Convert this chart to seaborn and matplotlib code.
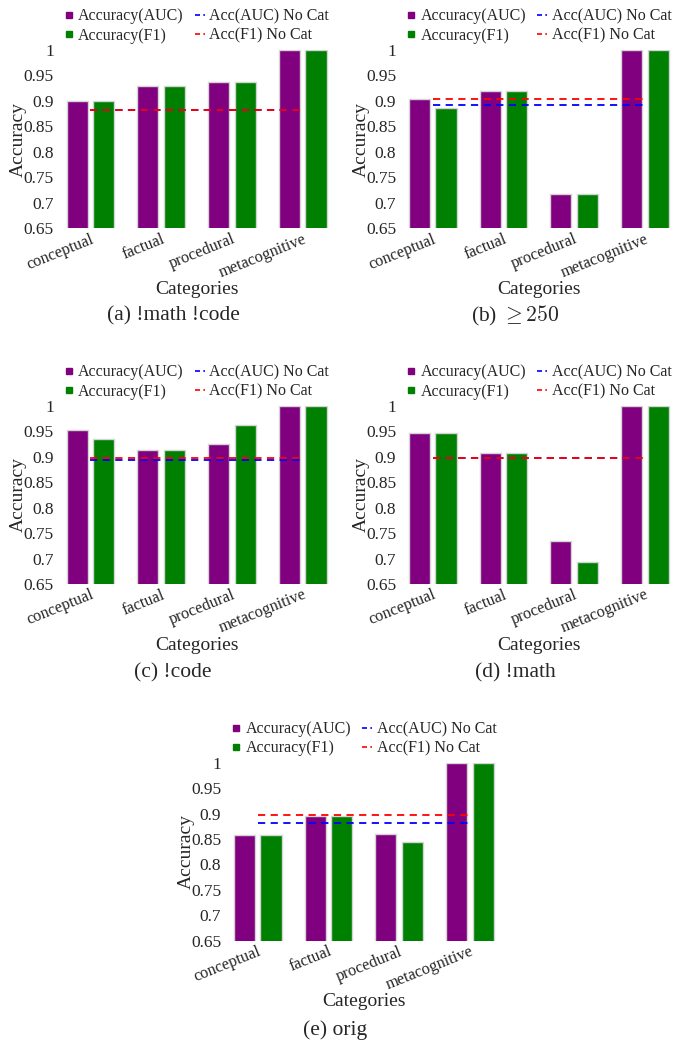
import numpy as np
import pandas as pd
import matplotlib
matplotlib.use("Agg")
import matplotlib.pyplot as plt
from matplotlib.lines import Line2D
import seaborn as sns

sns.set_style("white")
plt.rcParams['font.family'] = ['Liberation Serif', 'DejaVu Serif']
plt.rcParams['mathtext.fontset'] = 'cm'

categories = ["conceptual", "factual", "procedural", "metacognitive"]
metrics = ["Accuracy(AUC)", "Accuracy(F1)"]

auc_a = [0.899, 0.930, 0.938, 1.0]
f1_a = [0.899, 0.930, 0.938, 1.0]
nocat_auc_a, nocat_f1_a = 0.882, 0.882

auc_b = [0.903, 0.919, 0.717, 1.0]
f1_b = [0.887, 0.919, 0.717, 1.0]
nocat_auc_b, nocat_f1_b = 0.893, 0.903

auc_c = [0.952, 0.913, 0.926, 1.0]
f1_c = [0.936, 0.913, 0.963, 1.0]
nocat_auc_c, nocat_f1_c = 0.893, 0.898

auc_d = [0.947, 0.908, 0.734, 1.0]
f1_d = [0.947, 0.908, 0.694, 1.0]
nocat_auc_d, nocat_f1_d = 0.898, 0.898

auc_e = [0.858, 0.896, 0.860, 1.0]
f1_e = [0.858, 0.896, 0.845, 1.0]
nocat_auc_e, nocat_f1_e = 0.881, 0.897

captions = ["(a) !math !code", r"(b) $\geq 250$", "(c) !code", "(d) !math", "(e) orig"]
yticks = [0.65, 0.7, 0.75, 0.8, 0.85, 0.9, 0.95, 1.0]

panels = [
    (auc_a, f1_a, nocat_auc_a, nocat_f1_a),
    (auc_b, f1_b, nocat_auc_b, nocat_f1_b),
    (auc_c, f1_c, nocat_auc_c, nocat_f1_c),
    (auc_d, f1_d, nocat_auc_d, nocat_f1_d),
    (auc_e, f1_e, nocat_auc_e, nocat_f1_e),
]

W, H = 683, 1043
fig = plt.figure(figsize=(W / 100, H / 100), dpi=100)

# axes rectangles in pixels: left, top(y of 1.0), width, bottom(y of 0.65)
rects_px = [
    (62.2, 50.0, 268.7, 228.3),
    (404.4, 50.0, 268.7, 228.3),
    (62.2, 406.0, 268.7, 584.0),
    (404.4, 406.0, 268.7, 584.0),
    (229.4, 762.7, 268.7, 940.7),
]
caption_pos = [(173, 316), (515, 316), (173, 673), (515, 673), (335, 1030)]

for (auc, f1, nc_auc, nc_f1), (l, t, w, b), cap, (cx, cy) in zip(panels, rects_px, captions, caption_pos):
    ax = fig.add_axes([l / W, 1 - b / H, w / W, (b - t) / H])
    df = pd.DataFrame({
        "Category": categories * 2,
        "Accuracy": list(auc) + list(f1),
        "Metric": [metrics[0]] * len(categories) + [metrics[1]] * len(categories),
    })
    sns.barplot(data=df, x="Category", y="Accuracy", hue="Metric",
                palette=["#800080", "#008000"], width=0.755, gap=0.21,
                edgecolor="#d4d4d4", linewidth=1.0, legend=False, ax=ax,
                saturation=1)
    xs = np.arange(len(categories))
    ax.plot(xs, [nc_auc] * len(xs), color="blue", linestyle=(0, (4, 3)), lw=1.3)
    ax.plot(xs, [nc_f1] * len(xs), color="red", linestyle=(0, (4, 3)), lw=1.3)
    ax.set_ylim(0.65, 1.0)
    ax.set_xlim(-0.4, len(categories) - 0.6)
    ax.set_yticks(yticks)
    ax.set_yticklabels(["%g" % v for v in yticks], fontsize=12.5)
    ax.set_xticks(xs)
    ax.set_xticklabels(categories, rotation=22, ha="right", rotation_mode="anchor", fontsize=11.8)
    ax.tick_params(axis="x", length=0, pad=2)
    ax.tick_params(axis="y", length=0, pad=6)
    for s in ax.spines.values():
        s.set_visible(False)
    ax.set_ylabel("Accuracy", fontsize=14)
    ax.yaxis.set_label_coords(-0.13, 0.5)
    ax.set_xlabel("Categories", fontsize=14)
    ax.xaxis.set_label_coords(0.5, -0.295)
    ax.patch.set_alpha(0)

    handles = [
        Line2D([], [], marker="s", color="#800080", linestyle="none", markersize=4),
        Line2D([], [], marker="s", color="#008000", linestyle="none", markersize=4),
        Line2D([], [], color="blue", linestyle=(0, (3, 2)), lw=1.2),
        Line2D([], [], color="red", linestyle=(0, (3, 2)), lw=1.2),
    ]
    labels = ["Accuracy(AUC)", "Accuracy(F1)", "Acc(AUC) No Cat", "Acc(F1) No Cat"]
    ax.legend(handles, labels, ncol=2, frameon=False, fontsize=11.5,
              loc="lower center", bbox_to_anchor=(0.5, 1.0),
              handlelength=0.6, handletextpad=0.3, columnspacing=0.7,
              labelspacing=0.2, borderaxespad=0)

    fig.text(cx / W, 1 - cy / H, cap, ha="center", va="center", fontsize=15.5)

fig.savefig("out.png", dpi=100, facecolor="white")
